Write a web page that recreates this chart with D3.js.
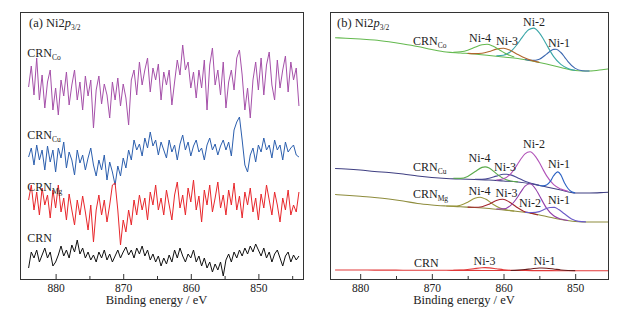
<!DOCTYPE html>
<html><head><meta charset="utf-8">
<script src="https://cdn.jsdelivr.net/npm/d3@7"></script>
<style>
body{margin:0;background:#fff}
svg{display:block}
text{font-family:"Liberation Serif","Times New Roman",serif;fill:#222}
</style>
</head><body><svg id="c" width="626" height="319"></svg>
<script>
// ---------- DATA ----------
// (a) raw spectra: sampled from 884 eV downward in 0.4 eV steps (a.u.)
const rawStart = 884, rawStep = -0.4;
const coRaw = [192,213,184,221,179,204,171,197,209,169,
191,164,199,183,207,174,194,209,179,197,
169,203,183,199,151,189,203,175,195,184,
161,197,179,201,173,195,181,154,199,209,
184,217,194,209,221,187,211,199,215,179,
207,194,209,174,197,219,204,234,209,217,
191,207,181,209,191,219,169,214,231,194,
209,184,217,171,197,209,189,221,229,204,
169,191,161,199,217,189,221,184,214,227,
194,179,219,191,209,223,187,217,199,211,
173];
const cuRaw = [122,131,114,134,119,129,109,133,117,129,
107,131,121,137,111,127,119,104,129,116,
124,109,121,131,114,103,119,109,124,99,
117,107,94,113,103,121,111,129,119,139,
129,135,123,141,131,147,133,139,124,137,
129,121,139,127,134,119,135,144,129,137,
123,133,139,127,131,119,134,141,129,135,
124,133,139,129,137,123,149,157,162,139,
114,107,124,131,117,134,127,141,129,134,
121,139,129,134,119,137,127,131,134,124,
122];
const mgRaw = [79,94,69,87,64,91,74,84,61,89,
71,94,67,81,59,85,69,54,79,64,
83,67,49,74,37,69,84,64,79,57,
74,94,96,69,34,59,47,69,54,79,
64,84,69,81,59,87,74,94,69,81,
64,89,74,59,84,97,71,84,64,91,
77,99,69,83,57,89,74,94,67,81,
97,71,84,64,89,74,96,69,83,61,
87,74,91,67,81,59,85,71,94,79,
64,87,74,57,81,69,89,64,74,67,
87];
const crnRaw = [11,27,21,29,17,24,31,21,27,13,
17,24,33,23,29,21,34,27,39,25,
31,21,27,19,24,17,27,21,29,19,
25,17,23,29,21,27,32,24,29,21,
31,25,33,23,29,19,25,17,23,13,
21,15,24,17,29,21,31,23,17,25,
21,29,17,23,13,21,11,17,7,15,
9,17,3,19,25,17,27,21,29,23,
31,25,33,27,35,29,23,31,21,27,
17,25,29,21,13,23,27,17,24,19,
23];

// (b) fitted spectra
const bgEnergy = [883.5,882,880,878,876,874,872,870,868,866,864,862,860,858,856,854,852,850,848,846,845.4];
const coBg  = [241.3,240.8,240,239,237.2,235,232.5,229.5,227,226,225,223.5,222,220.5,218,215,211.5,208.5,208,209.5,210];
const cuBg  = [110.5,110,109,107.5,106.5,105,103,101.5,100.5,100,99.5,99,98,97,95,92,89,86,86,86.5,86.7];
const mgBg  = [84.5,83.8,82.7,81.5,80,78,75.5,74,73,72.2,71.5,70.5,69,67.5,65.5,62.5,59.5,57.5,57,57,57];
const crnBg = [9,9,9,8.9,8.9,8.8,8.8,8.7,8.7,8.6,8.6,8.5,8.5,8.5,8.4,8.4,8.3,8.3,8.3,8.3,8.3];

const coNi4E = [867,866,865,864,863,862.3,861.5,860.5,859.5,858.5];
const coNi4  = [226.6,227.2,228.8,231.7,234.3,234.7,232.9,228.8,224.7,221.9];
const coNi3E = [865,864,863,862,861,860,859,858,857,856,855];
const coNi3  = [225.6,225.4,225.8,227.5,229.9,230.7,228.4,224.5,220.9,218.4,216.6];
const coNi2E = [861,860,859,858,857.5,857,856.5,855.8,855,854.5,854,853,852,851,850];
const coNi2  = [223.2,223.8,227.5,235.5,240.6,245.5,249.3,250.9,246.2,240.8,234.4,222.4,214.6,210.6,208.6];
const coNi1E = [857,856,855,854,853.5,853,852.65,852,851.5,851,850,849,848];
const coNi1  = [219.5,218.6,219.8,224.9,227.7,229.6,229.7,226.5,222.2,217.4,210.6,208.3,208];

const cuNi4E = [867,866,865,864,863,862.57,862,861,860,859,858];
const cuNi4  = [100.8,100.65,102.6,107.2,111.6,112.1,111,105.4,100.4,98,97.1];
const cuNi3E = [864,863,862,861,860,859.54,859,858,857,856,855];
const cuNi3  = [99.6,99.7,100.8,102.9,104.7,104.8,104.1,101.1,97.7,95.4,93.6];
const cuNi2E = [861,860,859,858,857.5,857,856.3,855.5,855,854.5,854,853,852,851];
const cuNi2  = [98.9,100.2,105.2,115.2,120.7,125.1,127.2,122.2,116.5,109.7,103.4,94.3,89.9,87.6];
const cuNi1E = [855,854.5,854,853.5,853,852.42,852,851.5,851,850.5,850];
const cuNi1  = [93.55,93.1,93.9,97.3,103.3,107.1,104.1,96.3,90.5,87.2,86.1];

const mgNi4E = [868,867,866,865,864,863.26,862.5,861.5,860.5,859.5,858.5];
const mgNi4  = [73,72.9,73.8,76.8,80.8,81.8,79.9,74.9,70.9,69,67.9];
const mgNi3E = [865,864,863,862,861,860.1,859.2,858.2,857.2,856.2,855.2];
const mgNi3  = [71.9,71.7,72.3,74.8,78.5,79.7,77.1,72,67.8,65.9,64];
const mgNi2E = [861,860,859,858,857.5,857,856.3,855.5,855,854,853,852,851];
const mgNi2  = [70,70.1,73.6,82.3,87.9,92.8,95.2,89.8,83.5,70.9,63.2,59.9,58.5];
const mgNi1E = [857,856,855,854,853.5,852.9,852.3,851.5,850.5,849.5,848.5];
const mgNi1  = [66.65,66.45,67.4,70.6,71.5,71.6,69.5,65.2,60,57.6,57.1];

const crnNi3E = [867,866,865,864,863,862.57,862,861,860,859,858];
const crnNi3  = [8.72,8.88,9.48,10.48,11.25,11.35,11.13,10.23,9.27,8.73,8.55];
const crnNi1E = [859,858,857,856,855,854.65,854,853,852,851,850];
const crnNi1  = [8.5,8.87,9.45,10.3,10.95,11,10.82,10.02,9.07,8.56,8.36];

const majorTicks = [880,870,860,850];
const minorTicks = [875,865,855,845];

// ---------- DRAW ----------
const svg = d3.select("#c");
const TOP = 12, BOT = 279;
const y = d3.scaleLinear().domain([0,267]).range([BOT,TOP]);

function subLabel(g, x, yy, main, sub, anchor){
  const t = g.append("text").attr("x",x).attr("y",yy).attr("font-size",12)
    .attr("text-anchor",anchor||"start");
  t.append("tspan").text(main);
  if(sub) t.append("tspan").attr("font-size",7.5).attr("dy",3).text(sub);
  return t;
}
function title(g, x, yy, pre){
  const t = g.append("text").attr("x",x).attr("y",yy).attr("font-size",12.5);
  t.append("tspan").text(pre+" Ni2");
  t.append("tspan").attr("font-style","italic").text("p");
  t.append("tspan").attr("font-size",7.5).attr("dy",3).text("3/2");
}
function axes(g, x, x0, x1){
  const dom = x.domain();
  const inDom = v => v <= Math.max(dom[0],dom[1]) && v >= Math.min(dom[0],dom[1]);
  const ax = g.append("g").attr("transform",`translate(0,${BOT})`)
    .call(d3.axisBottom(x).tickValues(majorTicks.filter(inDom)).tickSize(-5).tickPadding(5).tickFormat(d3.format("d")));
  ax.select(".domain").remove();
  ax.selectAll("text").attr("font-size",11.5).attr("font-family",'"Liberation Serif",serif').attr("fill","#222");
  ax.selectAll("line").attr("stroke","#333");
  const mi = g.append("g").attr("transform",`translate(0,${BOT})`)
    .call(d3.axisBottom(x).tickValues(minorTicks.filter(inDom)).tickSize(-3).tickFormat(""));
  mi.select(".domain").remove();
  mi.selectAll("line").attr("stroke","#333");
  g.append("rect").attr("x",x0+0.5).attr("y",TOP+0.5).attr("width",x1-x0).attr("height",BOT-TOP)
    .attr("fill","none").attr("stroke","#333").attr("stroke-width",1);
  g.append("text").attr("x",(x0+x1)/2-5).attr("y",304).attr("text-anchor","middle")
    .attr("font-size",12.5).text("Binding energy / eV");
}

// ----- panel (a)
const xa = d3.scaleLinear().domain([885.27,843.4]).range([20,303]);
const ga = svg.append("g");
const rawLine = d3.line().x((d,i)=>xa(rawStart + rawStep*i)).y(d=>y(d));
[[coRaw,"#a550a9"],[cuRaw,"#2c5fae"],[mgRaw,"#e8262b"],[crnRaw,"#111"]].forEach(([arr,col])=>{
  ga.append("path").attr("d",rawLine(arr)).attr("fill","none").attr("stroke",col)
    .attr("stroke-width",1).attr("stroke-linejoin","round");
});
axes(ga, xa, 20, 303);
title(ga, 29, 27, "(a)");
subLabel(ga, xa(884.2), y(222.5), "CRN", "Co");
subLabel(ga, xa(884.2), y(139.7), "CRN", "Cu");
subLabel(ga, xa(884.2), y(88.3), "CRN", "Mg");
subLabel(ga, xa(884.2), y(37.3), "CRN", "");

// ----- panel (b)
const xb = d3.scaleLinear().domain([884.21,845.42]).range([330,608]);
const gb = svg.append("g");
const fitLine = d3.line().curve(d3.curveMonotoneX).x(d=>xb(d[0])).y(d=>y(d[1]));
function curve(E, V, col){
  gb.append("path").attr("d",fitLine(E.map((e,i)=>[e,V[i]]))).attr("fill","none")
    .attr("stroke",col).attr("stroke-width",1.1);
}
// CRN_Co
curve(bgEnergy, coBg, "#64b94f");
curve(coNi1E, coNi1, "#3c68b0");
curve(coNi2E, coNi2, "#3aa6a8");
curve(coNi3E, coNi3, "#b0662c");
curve(coNi4E, coNi4, "#64b94f");
// CRN_Cu
curve(bgEnergy, cuBg, "#3f3f82");
curve(cuNi3E, cuNi3, "#4a4a96");
curve(cuNi4E, cuNi4, "#5aaa4a");
curve(cuNi2E, cuNi2, "#b152b8");
curve(cuNi1E, cuNi1, "#2d63c4");
// CRN_Mg
curve(bgEnergy, mgBg, "#8e8c3c");
curve(mgNi4E, mgNi4, "#9a983e");
curve(mgNi3E, mgNi3, "#a2242c");
curve(mgNi2E, mgNi2, "#9340aa");
curve(mgNi1E, mgNi1, "#6a5ac8");
// CRN
curve(bgEnergy, crnBg, "#e23a3a");
curve(crnNi3E, crnNi3, "#e23a3a");
curve(crnNi1E, crnNi1, "#6a1c1c");

axes(gb, xb, 330, 608);
title(gb, 337, 27, "(b)");

const nameLabels = [
  {e:872.63, v:234, sub:"Co"},
  {e:872.63, v:108.5, sub:"Cu"},
  {e:872.63, v:81.5, sub:"Mg"},
  {e:872.49, v:12.3, sub:""}
];
nameLabels.forEach(l=>subLabel(gb, xb(l.e), y(l.v), "CRN", l.sub));

const peakLabels = [
  {t:"Ni-4", e:863.28, v:237.5},{t:"Ni-3", e:859.51, v:234},{t:"Ni-2", e:855.74, v:253},{t:"Ni-1", e:852.26, v:232},
  {t:"Ni-4", e:863.35, v:117},{t:"Ni-3", e:859.79, v:108.5},{t:"Ni-2", e:855.74, v:131},{t:"Ni-1", e:852.26, v:111},
  {t:"Ni-4", e:863.35, v:84},{t:"Ni-3", e:859.58, v:82.5},{t:"Ni-2", e:856.3, v:72},{t:"Ni-1", e:852.26, v:75},
  {t:"Ni-3", e:862.65, v:14.5},{t:"Ni-1", e:854.28, v:14.5}
];
peakLabels.forEach(l=>gb.append("text").attr("x",xb(l.e)).attr("y",y(l.v))
  .attr("text-anchor","middle").attr("font-size",12).text(l.t));
</script></body></html>
